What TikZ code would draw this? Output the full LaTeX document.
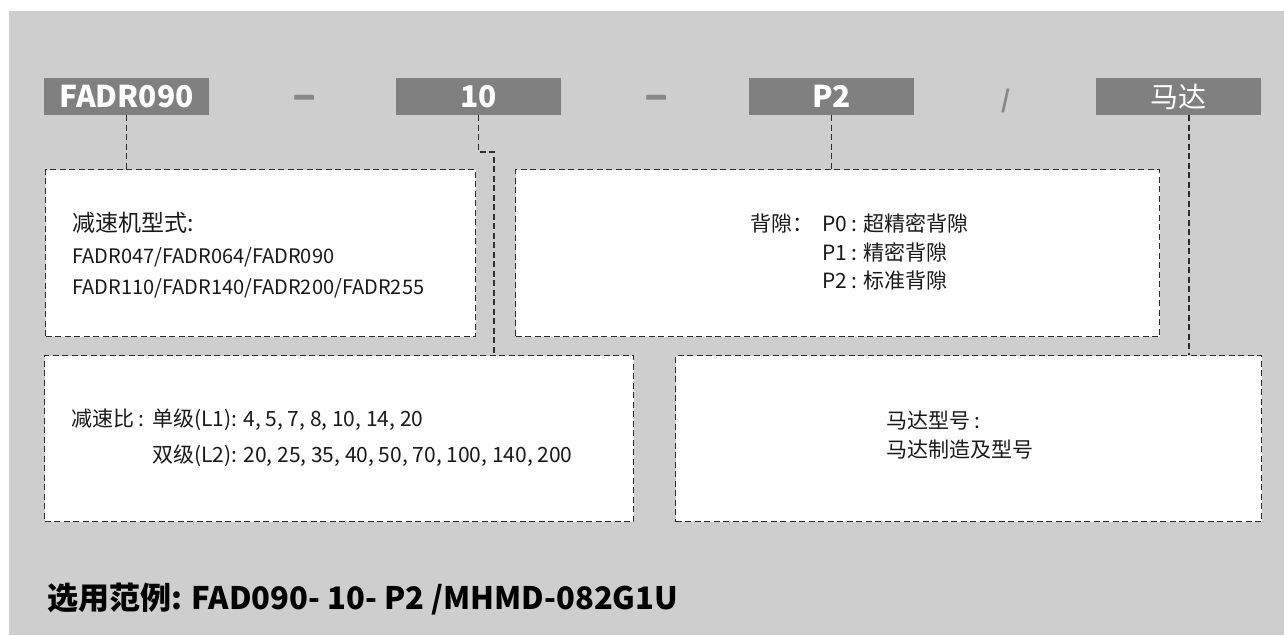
\documentclass[tikz,border=0pt]{standalone}
\usepackage{fontspec}
\setmainfont{Noto Sans CJK SC}
\newcommand{\fsz}[1]{\fontsize{#1}{#1}\selectfont}
\definecolor{bgg}{RGB}{206,206,206}
\definecolor{barg}{RGB}{128,128,128}
\definecolor{sepg}{RGB}{135,135,135}
\definecolor{lineg}{RGB}{45,45,45}
\definecolor{txtg}{RGB}{25,25,25}
\begin{document}
\begin{tikzpicture}[x=1pt,y=-1pt,
  bar/.style={fill=barg, draw=none, inner sep=0pt, minimum width=165pt, minimum height=37pt, text=white, font=\fsz{30}\bfseries},
  dbox/.style={fill=white, draw=lineg, line width=1.3pt, dash pattern=on 6pt off 3.5pt, inner sep=0pt, anchor=north west},
  conn/.style={draw=lineg, line width=1.3pt, dash pattern=on 6pt off 3.5pt},
  sep/.style={text=sepg, font=\fsz{44}\bfseries, inner sep=0pt},
  lbl/.style={text=txtg, anchor=base west, inner sep=0pt, font=\fsz{20}},
  lblb/.style={lbl, font=\fsz{21}},
  big/.style={text=txtg, anchor=base west, inner sep=0pt, font=\fsz{23}},
  example/.style={text=black, anchor=base west, inner sep=0pt, font=\fsz{31}\bfseries}]
\useasboundingbox (0,0) rectangle (1284,635);
\fill[white] (0,0) rectangle (1284,635);
\fill[bgg] (9,11) rectangle (1284,635);
% top bars
\node (b1) [bar] at (126.5,96.5) {FADR090};
\node (b2) [bar] at (478.5,96.5) {10};
\node (b3) [bar] at (831.5,96.5) {P2};
\node (b4) [bar, font=\fsz{28}] at (1178,96.5) {马达};
\node (s1) [sep] at (305,103) {–};
\node (s2) [sep] at (657,103) {–};
\node (s3) [sep, font=\fsz{24}\bfseries] at (1006,101) {/};
% boxes
\node (k1) [dbox, minimum width=430pt, minimum height=167pt] at (45,169) {};
\node (k2) [dbox, minimum width=644pt, minimum height=167pt] at (515,169) {};
\node (k3) [dbox, minimum width=589pt, minimum height=166pt] at (44,355) {};
\node (k4) [dbox, minimum width=586pt, minimum height=166pt] at (675,355) {};
% connectors
\coordinate (j) at (494,152);
\coordinate (m) at (1189,115);
\draw[conn] (b1.south) -- (b1.south |- k1.north);
\draw[conn] (b2.south) |- (j) -- (j |- k3.north);
\draw[conn] (b3.south) -- (b3.south |- k2.north);
\draw[conn] (m |- b4.south) -- (m |- k4.north);
% box 1
\node (t1a) [big] at (72,231) {减速机型式:};
\node (t1b) [lbl] at (72,263) {FADR047/FADR064/FADR090};
\node (t1c) [lbl] at (72,294) {FADR110/FADR140/FADR200/FADR255};
% box 2
\node (t2a) [lblb] at (750,231) {背隙：};
\node (t2b) [lblb] at (822,231) {P0 : 超精密背隙};
\node (t2c) [lblb] at (822,260) {P1 : 精密背隙};
\node (t2d) [lblb] at (822,288) {P2 : 标准背隙};
% box 3
\node (t3a) [lblb] at (71,426) {减速比 :};
\node (t3b) [lblb] at (152,426) {单级(L1): 4, 5, 7, 8, 10, 14, 20};
\node (t3c) [lblb] at (152,462) {双级(L2): 20, 25, 35, 40, 50, 70, 100, 140, 200};
% box 4
\node (t4a) [lblb] at (886,428) {马达型号 :};
\node (t4b) [lblb] at (886,457) {马达制造及型号};
% example
\node (ex) [example] at (47,609) {选用范例: FAD090- 10- P2 /MHMD-082G1U};
\end{tikzpicture}
\end{document}
